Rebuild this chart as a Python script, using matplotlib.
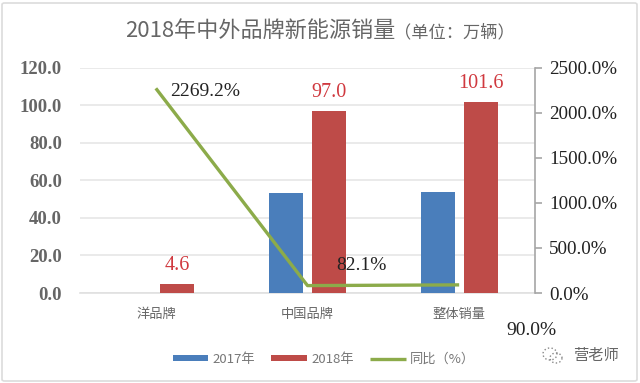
import numpy as np
import matplotlib
matplotlib.use('Agg')
import matplotlib.pyplot as plt
from matplotlib.patches import FancyBboxPatch, Arc

categories = ['洋品牌', '中国品牌', '整体销量']
sales_2017 = [0, 53.3, 53.6]
sales_2018 = [4.6, 97.0, 101.6]
yoy = [2269.2, 82.1, 90.0]
left_ticks = [0, 20, 40, 60, 80, 100, 120]
right_ticks = [0, 500, 1000, 1500, 2000, 2500]

plt.rcParams['font.family'] = ['Noto Sans CJK SC', 'DejaVu Sans']
serif = ['Liberation Serif', 'DejaVu Serif']

BLUE = '#4a7ebb'
RED = '#be4b48'
GREEN = '#8cab4a'

W, H = 640, 383
fig = plt.figure(figsize=(6.4, 3.83), dpi=100, facecolor='white')

# card border of the screenshot
fig.add_artist(FancyBboxPatch((2 / W, 2 / H), 635 / W, 378 / H,
                              boxstyle='round,pad=0,rounding_size=0.004',
                              transform=fig.transFigure, fc='white', ec='#dcdcdc', lw=1.2,
                              zorder=-5))

ax = fig.add_axes([80 / W, 1 - 293 / H, 455 / W, 225.5 / H])
ax.patch.set_alpha(0)
x = np.arange(len(categories))
width = 0.224
off = 0.141

ax.bar(x - off, sales_2017, width, color=BLUE, label='2017年', zorder=3)
ax.bar(x + off, sales_2018, width, color=RED, label='2018年', zorder=3)
ax.set_xlim(-0.5, 2.5)
ax.set_ylim(0, 120)
ax.set_yticks(left_ticks)
ax.set_yticklabels([f'{v:.1f}' for v in left_ticks], family=serif, fontsize=13.5,
                   color='#666666', fontweight='bold')
ax.set_xticks(x)
ax.set_xticklabels(categories, fontsize=9.5, color='#666666')
ax.tick_params(axis='y', length=0, pad=13)
ax.tick_params(axis='x', length=0, pad=11)
ax.grid(axis='y', color='#e6e6e6', lw=1.2, zorder=0)
ax.set_axisbelow(True)
for s in ['top', 'right', 'left']:
    ax.spines[s].set_visible(False)
ax.spines['bottom'].set_color('#e0e0e0')
ax.spines['bottom'].set_linewidth(1.2)

for i, v in enumerate(sales_2018):
    ax.annotate(f'{v:.1f}', (x[i] + off, v), xytext=(0, 9),
                textcoords='offset pixels', ha='center', va='bottom', family=serif,
                fontsize=14.5, color='#d0393f')

ax2 = ax.twinx()
ax2.set_zorder(ax.get_zorder() + 1)
ax2.patch.set_visible(False)
line, = ax2.plot(x, yoy, color=GREEN, lw=2.4, label='同比（%）', solid_capstyle='butt')
ax2.set_ylim(0, 2500)
ax2.set_yticks(right_ticks)
ax2.set_yticklabels([f'{v:.1f}%' for v in right_ticks], family=serif, fontsize=13.7, color='#222222')
ax2.tick_params(axis='y', length=5, color='#a6a6a6', width=1.2, pad=5, direction='out')
for s in ['top', 'left', 'bottom']:
    ax2.spines[s].set_visible(False)
ax2.spines['right'].set_color('#a6a6a6')
ax2.spines['right'].set_linewidth(1.2)

yoy_offsets = [(14, -3), (29, 12), (47, -46)]
yoy_va = ['center', 'bottom', 'center']
for i, v in enumerate(yoy):
    ax2.annotate(f'{v:.1f}%', (x[i], v), xytext=yoy_offsets[i], textcoords='offset pixels',
                 ha='left', va=yoy_va[i], family=serif, fontsize=14, color='#222222')

fig.text(125 / W, 1 - 31 / H, '2018年中外品牌新能源销量', fontsize=15.9, color='#666666',
         ha='left', va='center')
fig.text(394 / W, 1 - 32 / H, '（单位：万辆）', fontsize=12.4, color='#666666',
         ha='left', va='center', fontweight='medium')

bars_h, labels = ax.get_legend_handles_labels()
fig.legend(bars_h + [line], labels + [line.get_label()], loc='center', ncols=3,
           bbox_to_anchor=(324 / W, 1 - 359 / H), frameon=False, fontsize=9.5,
           labelcolor='#777777', handlelength=2.7, handleheight=0.35, handletextpad=0.35,
           columnspacing=1.2)

# watermark
fig.text(573 / W, 1 - 355 / H, '营老师', fontsize=11, color='#666666', ha='left', va='center')
wm = fig.add_axes([538 / W, 1 - 366 / H, 30 / W, 22 / H])
wm.axis('off')
wm.set_xlim(0, 30)
wm.set_ylim(0, 22)
wm.add_patch(Arc((12, 12), 14, 12, color='#888888', lw=1, ls=':'))
wm.add_patch(Arc((18, 8), 12, 10, color='#888888', lw=1, ls=':'))

fig.savefig('out.png', dpi=100)
